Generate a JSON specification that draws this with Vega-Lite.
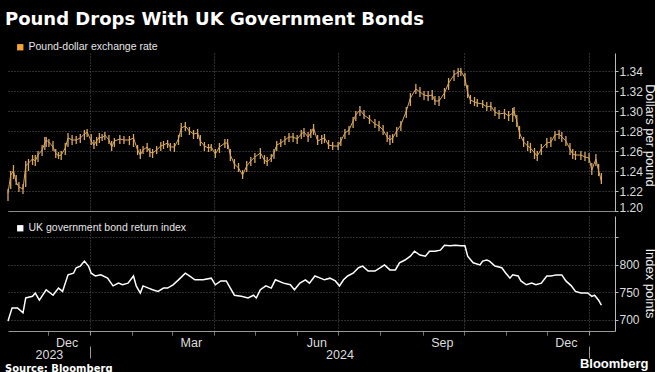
{
  "$schema": "https://vega.github.io/schema/vega-lite/v6.json",
  "background": "#000000",
  "padding": {"left": 5, "top": 11, "right": 0, "bottom": 0},
  "title": {"text": "Pound Drops With UK Government Bonds", "anchor": "start", "font": "DejaVu Sans", "fontSize": 18, "fontWeight": "bold", "color": "#ffffff", "offset": 13},
  "spacing": 3,
  "resolve": {"scale": {"color": "independent"}, "legend": {"color": "independent"}},
  "datasets": {
    "fx": [
      {"d":"2023-11-02","c":1.218,"lo":1.210,"hi":1.222},
      {"d":"2023-11-04","c":1.236,"lo":1.222,"hi":1.240},
      {"d":"2023-11-06","c":1.240,"lo":1.232,"hi":1.246},
      {"d":"2023-11-08","c":1.229,"lo":1.226,"hi":1.236},
      {"d":"2023-11-10","c":1.224,"lo":1.219,"hi":1.229},
      {"d":"2023-11-13","c":1.222,"lo":1.217,"hi":1.227},
      {"d":"2023-11-15","c":1.245,"lo":1.224,"hi":1.250},
      {"d":"2023-11-17","c":1.248,"lo":1.240,"hi":1.252},
      {"d":"2023-11-20","c":1.252,"lo":1.246,"hi":1.256},
      {"d":"2023-11-22","c":1.250,"lo":1.245,"hi":1.256},
      {"d":"2023-11-24","c":1.256,"lo":1.249,"hi":1.260},
      {"d":"2023-11-27","c":1.261,"lo":1.255,"hi":1.266},
      {"d":"2023-11-29","c":1.268,"lo":1.261,"hi":1.274},
      {"d":"2023-11-30","c":1.271,"lo":1.264,"hi":1.274},
      {"d":"2023-12-02","c":1.269,"lo":1.264,"hi":1.272},
      {"d":"2023-12-05","c":1.264,"lo":1.260,"hi":1.270},
      {"d":"2023-12-07","c":1.258,"lo":1.253,"hi":1.262},
      {"d":"2023-12-09","c":1.255,"lo":1.252,"hi":1.259},
      {"d":"2023-12-11","c":1.256,"lo":1.251,"hi":1.260},
      {"d":"2023-12-14","c":1.263,"lo":1.256,"hi":1.268},
      {"d":"2023-12-16","c":1.273,"lo":1.264,"hi":1.278},
      {"d":"2023-12-19","c":1.271,"lo":1.266,"hi":1.276},
      {"d":"2023-12-22","c":1.271,"lo":1.267,"hi":1.275},
      {"d":"2023-12-25","c":1.273,"lo":1.268,"hi":1.277},
      {"d":"2023-12-28","c":1.277,"lo":1.271,"hi":1.281},
      {"d":"2023-12-30","c":1.279,"lo":1.274,"hi":1.282},
      {"d":"2024-01-02","c":1.270,"lo":1.266,"hi":1.277},
      {"d":"2024-01-04","c":1.266,"lo":1.262,"hi":1.271},
      {"d":"2024-01-06","c":1.270,"lo":1.265,"hi":1.274},
      {"d":"2024-01-08","c":1.274,"lo":1.268,"hi":1.278},
      {"d":"2024-01-10","c":1.273,"lo":1.270,"hi":1.277},
      {"d":"2024-01-12","c":1.276,"lo":1.271,"hi":1.279},
      {"d":"2024-01-15","c":1.271,"lo":1.267,"hi":1.276},
      {"d":"2024-01-17","c":1.264,"lo":1.260,"hi":1.270},
      {"d":"2024-01-19","c":1.270,"lo":1.264,"hi":1.273},
      {"d":"2024-01-23","c":1.272,"lo":1.267,"hi":1.276},
      {"d":"2024-01-26","c":1.271,"lo":1.267,"hi":1.275},
      {"d":"2024-01-30","c":1.271,"lo":1.266,"hi":1.275},
      {"d":"2024-02-02","c":1.273,"lo":1.264,"hi":1.277},
      {"d":"2024-02-05","c":1.261,"lo":1.256,"hi":1.266},
      {"d":"2024-02-07","c":1.256,"lo":1.252,"hi":1.262},
      {"d":"2024-02-09","c":1.261,"lo":1.257,"hi":1.265},
      {"d":"2024-02-12","c":1.264,"lo":1.259,"hi":1.268},
      {"d":"2024-02-14","c":1.259,"lo":1.254,"hi":1.263},
      {"d":"2024-02-16","c":1.258,"lo":1.253,"hi":1.262},
      {"d":"2024-02-19","c":1.261,"lo":1.257,"hi":1.265},
      {"d":"2024-02-22","c":1.265,"lo":1.260,"hi":1.269},
      {"d":"2024-02-24","c":1.266,"lo":1.262,"hi":1.270},
      {"d":"2024-02-27","c":1.268,"lo":1.263,"hi":1.271},
      {"d":"2024-02-29","c":1.264,"lo":1.260,"hi":1.268},
      {"d":"2024-03-03","c":1.264,"lo":1.259,"hi":1.268},
      {"d":"2024-03-06","c":1.272,"lo":1.266,"hi":1.276},
      {"d":"2024-03-08","c":1.283,"lo":1.274,"hi":1.288},
      {"d":"2024-03-11","c":1.285,"lo":1.280,"hi":1.289},
      {"d":"2024-03-14","c":1.280,"lo":1.276,"hi":1.284},
      {"d":"2024-03-17","c":1.277,"lo":1.272,"hi":1.281},
      {"d":"2024-03-20","c":1.278,"lo":1.272,"hi":1.282},
      {"d":"2024-03-22","c":1.270,"lo":1.265,"hi":1.276},
      {"d":"2024-03-25","c":1.265,"lo":1.260,"hi":1.269},
      {"d":"2024-03-28","c":1.263,"lo":1.259,"hi":1.267},
      {"d":"2024-03-30","c":1.264,"lo":1.260,"hi":1.267},
      {"d":"2024-04-02","c":1.257,"lo":1.253,"hi":1.262},
      {"d":"2024-04-05","c":1.264,"lo":1.258,"hi":1.268},
      {"d":"2024-04-09","c":1.268,"lo":1.263,"hi":1.272},
      {"d":"2024-04-11","c":1.268,"lo":1.262,"hi":1.272},
      {"d":"2024-04-13","c":1.256,"lo":1.250,"hi":1.262},
      {"d":"2024-04-16","c":1.247,"lo":1.242,"hi":1.252},
      {"d":"2024-04-19","c":1.243,"lo":1.239,"hi":1.248},
      {"d":"2024-04-22","c":1.236,"lo":1.232,"hi":1.241},
      {"d":"2024-04-25","c":1.245,"lo":1.239,"hi":1.250},
      {"d":"2024-04-28","c":1.250,"lo":1.245,"hi":1.254},
      {"d":"2024-05-01","c":1.254,"lo":1.248,"hi":1.258},
      {"d":"2024-05-05","c":1.258,"lo":1.252,"hi":1.263},
      {"d":"2024-05-08","c":1.251,"lo":1.247,"hi":1.256},
      {"d":"2024-05-10","c":1.249,"lo":1.245,"hi":1.254},
      {"d":"2024-05-13","c":1.253,"lo":1.249,"hi":1.257},
      {"d":"2024-05-15","c":1.258,"lo":1.252,"hi":1.262},
      {"d":"2024-05-17","c":1.266,"lo":1.260,"hi":1.270},
      {"d":"2024-05-20","c":1.268,"lo":1.264,"hi":1.272},
      {"d":"2024-05-23","c":1.271,"lo":1.266,"hi":1.275},
      {"d":"2024-05-26","c":1.274,"lo":1.269,"hi":1.278},
      {"d":"2024-05-29","c":1.274,"lo":1.269,"hi":1.278},
      {"d":"2024-06-01","c":1.272,"lo":1.267,"hi":1.276},
      {"d":"2024-06-04","c":1.277,"lo":1.272,"hi":1.281},
      {"d":"2024-06-06","c":1.279,"lo":1.274,"hi":1.283},
      {"d":"2024-06-09","c":1.274,"lo":1.269,"hi":1.279},
      {"d":"2024-06-11","c":1.278,"lo":1.273,"hi":1.282},
      {"d":"2024-06-13","c":1.283,"lo":1.276,"hi":1.287},
      {"d":"2024-06-16","c":1.270,"lo":1.266,"hi":1.276},
      {"d":"2024-06-19","c":1.272,"lo":1.267,"hi":1.276},
      {"d":"2024-06-21","c":1.273,"lo":1.268,"hi":1.277},
      {"d":"2024-06-24","c":1.266,"lo":1.262,"hi":1.271},
      {"d":"2024-06-27","c":1.265,"lo":1.261,"hi":1.269},
      {"d":"2024-07-01","c":1.265,"lo":1.261,"hi":1.269},
      {"d":"2024-07-03","c":1.270,"lo":1.265,"hi":1.274},
      {"d":"2024-07-06","c":1.278,"lo":1.272,"hi":1.282},
      {"d":"2024-07-09","c":1.281,"lo":1.276,"hi":1.285},
      {"d":"2024-07-12","c":1.290,"lo":1.283,"hi":1.294},
      {"d":"2024-07-14","c":1.296,"lo":1.290,"hi":1.300},
      {"d":"2024-07-17","c":1.301,"lo":1.295,"hi":1.305},
      {"d":"2024-07-20","c":1.296,"lo":1.292,"hi":1.301},
      {"d":"2024-07-24","c":1.292,"lo":1.287,"hi":1.296},
      {"d":"2024-07-28","c":1.287,"lo":1.283,"hi":1.292},
      {"d":"2024-07-31","c":1.285,"lo":1.280,"hi":1.290},
      {"d":"2024-08-03","c":1.281,"lo":1.276,"hi":1.286},
      {"d":"2024-08-06","c":1.274,"lo":1.269,"hi":1.279},
      {"d":"2024-08-08","c":1.271,"lo":1.266,"hi":1.276},
      {"d":"2024-08-10","c":1.273,"lo":1.268,"hi":1.277},
      {"d":"2024-08-13","c":1.280,"lo":1.274,"hi":1.284},
      {"d":"2024-08-16","c":1.286,"lo":1.280,"hi":1.290},
      {"d":"2024-08-20","c":1.300,"lo":1.293,"hi":1.304},
      {"d":"2024-08-23","c":1.313,"lo":1.305,"hi":1.318},
      {"d":"2024-08-27","c":1.322,"lo":1.317,"hi":1.327},
      {"d":"2024-08-30","c":1.319,"lo":1.314,"hi":1.324},
      {"d":"2024-09-02","c":1.316,"lo":1.311,"hi":1.320},
      {"d":"2024-09-05","c":1.315,"lo":1.310,"hi":1.320},
      {"d":"2024-09-08","c":1.316,"lo":1.311,"hi":1.321},
      {"d":"2024-09-10","c":1.310,"lo":1.306,"hi":1.315},
      {"d":"2024-09-13","c":1.310,"lo":1.305,"hi":1.315},
      {"d":"2024-09-17","c":1.318,"lo":1.312,"hi":1.323},
      {"d":"2024-09-20","c":1.328,"lo":1.321,"hi":1.333},
      {"d":"2024-09-24","c":1.336,"lo":1.330,"hi":1.341},
      {"d":"2024-09-27","c":1.339,"lo":1.334,"hi":1.343},
      {"d":"2024-09-29","c":1.340,"lo":1.335,"hi":1.343},
      {"d":"2024-10-02","c":1.333,"lo":1.325,"hi":1.338},
      {"d":"2024-10-04","c":1.318,"lo":1.313,"hi":1.326},
      {"d":"2024-10-06","c":1.311,"lo":1.307,"hi":1.316},
      {"d":"2024-10-09","c":1.309,"lo":1.305,"hi":1.314},
      {"d":"2024-10-11","c":1.308,"lo":1.304,"hi":1.312},
      {"d":"2024-10-15","c":1.307,"lo":1.303,"hi":1.311},
      {"d":"2024-10-18","c":1.304,"lo":1.300,"hi":1.309},
      {"d":"2024-10-21","c":1.305,"lo":1.300,"hi":1.309},
      {"d":"2024-10-24","c":1.299,"lo":1.295,"hi":1.304},
      {"d":"2024-10-27","c":1.297,"lo":1.292,"hi":1.301},
      {"d":"2024-10-31","c":1.298,"lo":1.292,"hi":1.302},
      {"d":"2024-11-03","c":1.295,"lo":1.290,"hi":1.300},
      {"d":"2024-11-06","c":1.298,"lo":1.289,"hi":1.303},
      {"d":"2024-11-07","c":1.300,"lo":1.295,"hi":1.304},
      {"d":"2024-11-09","c":1.290,"lo":1.284,"hi":1.296},
      {"d":"2024-11-11","c":1.278,"lo":1.272,"hi":1.285},
      {"d":"2024-11-14","c":1.269,"lo":1.264,"hi":1.274},
      {"d":"2024-11-17","c":1.265,"lo":1.260,"hi":1.270},
      {"d":"2024-11-19","c":1.263,"lo":1.258,"hi":1.268},
      {"d":"2024-11-22","c":1.258,"lo":1.252,"hi":1.263},
      {"d":"2024-11-24","c":1.255,"lo":1.250,"hi":1.260},
      {"d":"2024-11-27","c":1.262,"lo":1.256,"hi":1.267},
      {"d":"2024-12-01","c":1.268,"lo":1.263,"hi":1.273},
      {"d":"2024-12-04","c":1.269,"lo":1.264,"hi":1.274},
      {"d":"2024-12-07","c":1.276,"lo":1.270,"hi":1.280},
      {"d":"2024-12-10","c":1.277,"lo":1.272,"hi":1.281},
      {"d":"2024-12-12","c":1.274,"lo":1.269,"hi":1.279},
      {"d":"2024-12-15","c":1.270,"lo":1.265,"hi":1.275},
      {"d":"2024-12-18","c":1.262,"lo":1.256,"hi":1.268},
      {"d":"2024-12-20","c":1.257,"lo":1.252,"hi":1.262},
      {"d":"2024-12-22","c":1.256,"lo":1.251,"hi":1.260},
      {"d":"2024-12-26","c":1.256,"lo":1.251,"hi":1.260},
      {"d":"2024-12-29","c":1.254,"lo":1.250,"hi":1.259},
      {"d":"2025-01-01","c":1.253,"lo":1.248,"hi":1.258},
      {"d":"2025-01-03","c":1.241,"lo":1.236,"hi":1.248},
      {"d":"2025-01-06","c":1.252,"lo":1.245,"hi":1.257},
      {"d":"2025-01-08","c":1.240,"lo":1.235,"hi":1.247},
      {"d":"2025-01-10","c":1.230,"lo":1.227,"hi":1.238}
    ],
    "gilts": [
      {"d":"2023-11-02","v":698},{"d":"2023-11-05","v":722},{"d":"2023-11-09","v":722},{"d":"2023-11-13","v":713},
      {"d":"2023-11-15","v":740},{"d":"2023-11-20","v":743},{"d":"2023-11-22","v":749},{"d":"2023-11-25","v":736},
      {"d":"2023-11-30","v":755},{"d":"2023-12-03","v":749},{"d":"2023-12-05","v":745},{"d":"2023-12-09","v":758},
      {"d":"2023-12-12","v":752},{"d":"2023-12-16","v":782},{"d":"2023-12-20","v":785},{"d":"2023-12-22","v":795},
      {"d":"2023-12-25","v":798},{"d":"2023-12-28","v":807},{"d":"2023-12-31","v":798},{"d":"2024-01-02","v":785},
      {"d":"2024-01-05","v":780},{"d":"2024-01-09","v":782},{"d":"2024-01-14","v":776},{"d":"2024-01-18","v":762},
      {"d":"2024-01-22","v":767},{"d":"2024-01-25","v":764},{"d":"2024-01-29","v":767},{"d":"2024-02-02","v":780},
      {"d":"2024-02-04","v":762},{"d":"2024-02-07","v":749},{"d":"2024-02-09","v":762},{"d":"2024-02-13","v":758},
      {"d":"2024-02-16","v":755},{"d":"2024-02-20","v":752},{"d":"2024-02-24","v":758},{"d":"2024-02-27","v":758},
      {"d":"2024-03-02","v":764},{"d":"2024-03-06","v":773},{"d":"2024-03-11","v":785},{"d":"2024-03-14","v":780},
      {"d":"2024-03-18","v":773},{"d":"2024-03-24","v":773},{"d":"2024-03-30","v":776},{"d":"2024-04-02","v":764},
      {"d":"2024-04-06","v":771},{"d":"2024-04-10","v":771},{"d":"2024-04-13","v":758},{"d":"2024-04-16","v":745},
      {"d":"2024-04-21","v":743},{"d":"2024-04-26","v":740},{"d":"2024-04-30","v":745},{"d":"2024-05-02","v":740},
      {"d":"2024-05-05","v":755},{"d":"2024-05-09","v":762},{"d":"2024-05-13","v":758},{"d":"2024-05-16","v":773},
      {"d":"2024-05-22","v":767},{"d":"2024-05-27","v":764},{"d":"2024-05-30","v":755},{"d":"2024-06-03","v":767},
      {"d":"2024-06-07","v":773},{"d":"2024-06-10","v":767},{"d":"2024-06-14","v":780},{"d":"2024-06-18","v":776},
      {"d":"2024-06-21","v":773},{"d":"2024-06-25","v":776},{"d":"2024-06-29","v":771},{"d":"2024-07-02","v":762},
      {"d":"2024-07-05","v":773},{"d":"2024-07-08","v":780},{"d":"2024-07-12","v":785},{"d":"2024-07-16","v":795},
      {"d":"2024-07-19","v":798},{"d":"2024-07-23","v":789},{"d":"2024-07-28","v":789},{"d":"2024-08-01","v":795},
      {"d":"2024-08-04","v":800},{"d":"2024-08-08","v":791},{"d":"2024-08-12","v":791},{"d":"2024-08-15","v":804},
      {"d":"2024-08-19","v":809},{"d":"2024-08-23","v":816},{"d":"2024-08-26","v":825},{"d":"2024-08-30","v":818},
      {"d":"2024-09-03","v":816},{"d":"2024-09-06","v":825},{"d":"2024-09-10","v":825},{"d":"2024-09-14","v":827},
      {"d":"2024-09-17","v":836},{"d":"2024-09-21","v":835},{"d":"2024-09-25","v":836},{"d":"2024-09-29","v":835},
      {"d":"2024-10-02","v":835},{"d":"2024-10-04","v":816},{"d":"2024-10-08","v":804},{"d":"2024-10-13","v":800},
      {"d":"2024-10-15","v":807},{"d":"2024-10-18","v":809},{"d":"2024-10-20","v":807},{"d":"2024-10-24","v":798},
      {"d":"2024-10-29","v":795},{"d":"2024-11-01","v":785},{"d":"2024-11-04","v":776},{"d":"2024-11-06","v":782},
      {"d":"2024-11-10","v":780},{"d":"2024-11-12","v":771},{"d":"2024-11-16","v":764},{"d":"2024-11-20","v":767},
      {"d":"2024-11-23","v":764},{"d":"2024-11-27","v":767},{"d":"2024-12-01","v":780},{"d":"2024-12-04","v":780},
      {"d":"2024-12-08","v":782},{"d":"2024-12-12","v":782},{"d":"2024-12-15","v":771},{"d":"2024-12-19","v":762},
      {"d":"2024-12-22","v":752},{"d":"2024-12-26","v":749},{"d":"2024-12-29","v":749},{"d":"2024-12-31","v":749},
      {"d":"2025-01-03","v":743},{"d":"2025-01-05","v":745},{"d":"2025-01-08","v":736},{"d":"2025-01-10","v":727}
    ]
  },
  "vconcat": [
    {
      "width": 607,
      "height": 158,
      "data": {"name": "fx"},
      "encoding": {
        "x": {
          "field": "d", "type": "temporal",
          "scale": {"domain": [{"year": 2023, "month": "nov", "date": 2}, {"year": 2025, "month": "jan", "date": 20}]},
          "axis": {
            "title": null, "labels": false, "ticks": false, "domain": true, "domainColor": "#8a8a8a",
            "grid": true, "gridColor": "#5c5c5c", "gridDash": [1, 2],
            "values": [{"year": 2024, "month": "jan", "date": 1}, {"year": 2024, "month": "apr", "date": 1}, {"year": 2024, "month": "jul", "date": 1}, {"year": 2024, "month": "oct", "date": 1}, {"year": 2025, "month": "jan", "date": 1}]
          }
        }
      },
      "layer": [
        {
          "mark": {"type": "rule", "color": "#d9a75f", "strokeWidth": 1.3},
          "encoding": {
            "y": {
              "field": "lo", "type": "quantitative",
              "scale": {"domain": [1.2, 1.358], "nice": false, "zero": false},
              "axis": {
                "orient": "right", "title": "Dollars per pound", "values": [1.2, 1.22, 1.24, 1.26, 1.28, 1.3, 1.32, 1.34],
                "format": ".2f", "labelOverlap": false, "grid": true, "gridColor": "#5c5c5c", "gridDash": [1, 2],
                "domainColor": "#bbbbbb", "tickColor": "#bbbbbb", "tickSize": 3, "labelPadding": 1,
                "labelColor": "#dddddd", "labelFontSize": 12, "labelFont": "Liberation Sans",
                "labelBaseline": {"condition": {"test": "datum.value < 1.205", "value": "alphabetic"}, "value": "middle"},
                "titleColor": "#eeeeee", "titleFontSize": 13, "titleFontWeight": "normal", "titleFont": "Liberation Sans",
                "titleX": 34, "titleY": 82, "titleBaseline": "middle", "titleAngle": 90
              }
            },
            "y2": {"field": "hi"}
          }
        },
        {
          "mark": {"type": "line", "color": "#d9a75f", "strokeWidth": 1},
          "encoding": {
            "y": {
              "field": "c", "type": "quantitative",
              "axis": {
                "orient": "right", "title": "Dollars per pound", "values": [1.2, 1.22, 1.24, 1.26, 1.28, 1.3, 1.32, 1.34],
                "format": ".2f", "labelOverlap": false, "grid": true, "gridColor": "#5c5c5c", "gridDash": [1, 2],
                "domainColor": "#bbbbbb", "tickColor": "#bbbbbb", "tickSize": 3, "labelPadding": 1,
                "labelColor": "#dddddd", "labelFontSize": 12, "labelFont": "Liberation Sans",
                "labelBaseline": {"condition": {"test": "datum.value < 1.205", "value": "alphabetic"}, "value": "middle"},
                "titleColor": "#eeeeee", "titleFontSize": 13, "titleFontWeight": "normal", "titleFont": "Liberation Sans",
                "titleX": 34, "titleY": 82, "titleBaseline": "middle", "titleAngle": 90
              }
            }
          }
        },
        {
          "data": {"values": []},
          "mark": {"type": "square", "filled": true, "opacity": 1},
          "encoding": {
            "color": {
              "datum": "Pound-dollar exchange rate",
              "scale": {"range": ["#f7a531"]},
              "legend": {"orient": "none", "legendX": 7, "legendY": -11, "title": null, "symbolType": "square", "symbolSize": 40, "symbolStrokeWidth": 0, "symbolOpacity": 1, "labelColor": "#e6e6e6", "labelFontSize": 10.5, "labelFont": "Liberation Sans", "padding": 0, "labelOffset": 3}
            }
          }
        }
      ]
    },
    {
      "width": 607,
      "height": 115,
      "data": {"name": "gilts"},
      "title": {"text": "Source: Bloomberg", "orient": "bottom", "anchor": "start", "font": "DejaVu Sans", "fontSize": 10, "fontWeight": "bold", "color": "#ffffff", "offset": -20},
      "layer": [
        {
          "mark": {"type": "line", "color": "#ffffff", "strokeWidth": 1.5},
          "encoding": {
            "x": {
              "field": "d", "type": "temporal",
              "scale": {"domain": [{"year": 2023, "month": "nov", "date": 2}, {"year": 2025, "month": "jan", "date": 20}]},
              "axis": {
                "values": [
                  {"year": 2023, "month": "dec", "date": 1}, {"year": 2024, "month": "jan", "date": 1}, {"year": 2024, "month": "feb", "date": 1},
                  {"year": 2024, "month": "mar", "date": 1}, {"year": 2024, "month": "apr", "date": 1}, {"year": 2024, "month": "may", "date": 1},
                  {"year": 2024, "month": "jun", "date": 1}, {"year": 2024, "month": "jul", "date": 1}, {"year": 2024, "month": "aug", "date": 1},
                  {"year": 2024, "month": "sep", "date": 1}, {"year": 2024, "month": "oct", "date": 1}, {"year": 2024, "month": "nov", "date": 1},
                  {"year": 2024, "month": "dec", "date": 1}, {"year": 2025, "month": "jan", "date": 1},
                  {"year": 2023, "month": "dec", "date": 15}, {"year": 2024, "month": "mar", "date": 15}, {"year": 2024, "month": "jun", "date": 15},
                  {"year": 2024, "month": "sep", "date": 15}, {"year": 2024, "month": "dec", "date": 15},
                  {"year": 2023, "month": "dec", "date": 2}, {"year": 2024, "month": "jul", "date": 2}
                ],
                "labelExpr": "date(datum.value) == 15 ? timeFormat(datum.value, '%b') : (date(datum.value) == 1 ? '' : timeFormat(datum.value, '%Y'))",
                "labelOverlap": false, "labelFlush": false, "labelBound": false,
                "labelColor": "#dddddd", "labelFontSize": 12.5, "labelFont": "Liberation Sans",
                "labelPadding": {"condition": {"test": "date(datum.value) == 15", "value": 1}, "value": 13},
                "grid": true, "gridColor": "#5c5c5c", "gridDash": [1, 2],
                "gridOpacity": {"condition": {"test": "date(datum.value) == 1 && month(datum.value) % 3 == 0", "value": 1}, "value": 0},
                "domainColor": "#999999", "tickColor": "#999999",
                "tickSize": {"condition": {"test": "date(datum.value) == 1 && month(datum.value) == 0", "value": 27}, "value": 4},
                "tickDash": {"condition": {"test": "date(datum.value) == 1 && month(datum.value) == 0", "value": [4, 11, 12, 100]}, "value": [1, 0]},
                "tickOpacity": {"condition": {"test": "date(datum.value) == 1", "value": 1}, "value": 0},
                "title": "Bloomberg", "titleX": 640, "titleY": 32, "titleAlign": "right", "titleBaseline": "middle",
                "titleFont": "Liberation Sans", "titleFontSize": 13, "titleFontWeight": "bold", "titleColor": "#ffffff"
              }
            },
            "y": {
              "field": "v", "type": "quantitative",
              "scale": {"domain": [680, 889], "nice": false, "zero": false},
              "axis": {
                "orient": "right", "title": "Index points", "values": [700, 750, 800, 850],
                "labelExpr": "datum.value == 850 ? '' : datum.label", "labelOverlap": false,
                "grid": true, "gridColor": "#5c5c5c", "gridDash": [1, 2],
                "domainColor": "#bbbbbb", "tickColor": "#bbbbbb", "tickSize": 3, "labelPadding": 1,
                "labelColor": "#dddddd", "labelFontSize": 12, "labelFont": "Liberation Sans",
                "titleColor": "#eeeeee", "titleFontSize": 13, "titleFontWeight": "normal", "titleFont": "Liberation Sans",
                "titleX": 34, "titleY": 67, "titleBaseline": "middle", "titleAngle": 90
              }
            }
          }
        },
        {
          "data": {"values": []},
          "mark": {"type": "square", "filled": true, "opacity": 1},
          "encoding": {
            "color": {
              "datum": "UK government bond return index",
              "scale": {"range": ["#ffffff"]},
              "legend": {"orient": "none", "legendX": 7, "legendY": 7, "title": null, "symbolType": "square", "symbolSize": 40, "symbolStrokeWidth": 0, "symbolOpacity": 1, "labelColor": "#e6e6e6", "labelFontSize": 10.5, "labelFont": "Liberation Sans", "padding": 0, "labelOffset": 3}
            }
          }
        }
      ]
    }
  ],
  "config": {
    "view": {"stroke": null},
    "font": "Liberation Sans"
  }
}
